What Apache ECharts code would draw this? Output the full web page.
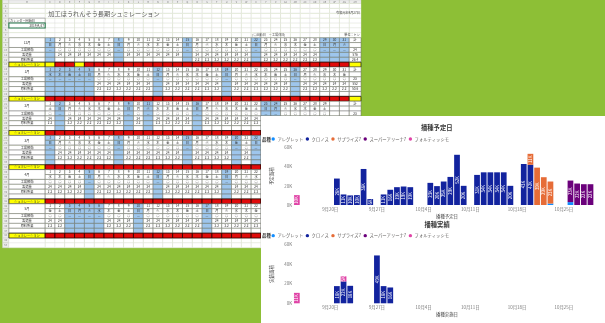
<!DOCTYPE html>
<html>
<head>
<meta charset="utf-8">
<script src="https://cdn.jsdelivr.net/npm/echarts@6/dist/echarts.min.js"></script>
<style>
  html, body { margin: 0; padding: 0; width: 605px; height: 323px; overflow: hidden; background: #8dbf36; }
  #sheet { position: absolute; left: 0; top: 0; width: 362px; height: 251px; }
  #panel { position: absolute; left: 261px; top: 116px; width: 344px; height: 207px; background: #ffffff; }
</style>
</head>
<body>
<div id="sheet"></div>
<div id="panel"></div>
<script>
// ---------------- spreadsheet content ----------------
const sheetTitle = '加工ほうれんそう長期シュミレーション';
const startLabel = 'カレンダー開始日';
const startDate = '2019/9/27';
const issueNote = '令和元年9月27日';
const legendNote = '(○出勤日　－工場休日)';
const unitNote = '単位：トン';
const weekdayChars = ['日', '月', '火', '水', '木', '金', '土'];
const rowLabels = ['工場稼働', '製造量', '原料所要'];
const simLabel = 'シュミレーション';

const monthNames = ['12月', '1月', '2月', '3月', '4月', '5月'];
const monthDays = [31, 31, 29, 31, 30, 31];
const firstWeekdays = [0, 3, 6, 0, 3, 5];
const offDays = [
  [1, 8, 15, 22, 29, 30, 31],
  [1, 2, 3, 4, 5, 12, 19, 26],
  [2, 9, 11, 16, 23, 24],
  [1, 8, 15, 20, 22, 29],
  [5, 12, 19, 26, 29],
  [3, 4, 5, 6, 10, 17, 24, 31]
];
const dailyOutput = [24, 24, 24, 24, 24, 24];
const dailyMaterial = [2.2, 2.2, 2.2, 2.2, 2.2, 2.2];
const outputFromDay = [2, 1, 1, 1, 1, 1];
const materialFromDay = [16, 1, 1, 1, 1, 1];
const simMarkedDays = [[1, 4], [], [], [], [], []];

// ---------------- chart content ----------------
const varieties = ['アレグレット', 'クロノス', 'サプライズ7', 'スーパーアリーナ7', 'フォルティッシモ'];
const varietyColors = ['#118DFF', '#12239E', '#E66C37', '#6B007B', '#E044A7'];
const axisFirstDay = '2019-09-15';
const axisLastDay = '2019-10-30';
const dateTicks = ['9/20', '9/27', '10/4', '10/11', '10/18', '10/25'];

// 播種予定日 — planned sowing area per day
const planAllegretto = [['10/23', 1500], ['10/26', 3000]];
const planChronos = [
  ['9/21', 27600], ['9/22', 11000], ['9/23', 10000], ['9/24', 10300], ['9/25', 37600], ['9/26', 6200],
  ['9/28', 11000], ['9/29', 15900], ['9/30', 18600], ['10/1', 19300], ['10/2', 18600],
  ['10/5', 23100], ['10/6', 19700], ['10/7', 24500], ['10/8', 29300], ['10/9', 52400], ['10/10', 20000],
  ['10/12', 31400], ['10/13', 34100], ['10/14', 34100], ['10/15', 34100], ['10/16', 34100], ['10/17', 20000],
  ['10/19', 42800], ['10/20', 42000]
];
const planSurprise = [['10/20', 11400], ['10/21', 39000], ['10/22', 29000], ['10/23', 23000]];
const planSuperArena = [['10/26', 22500], ['10/27', 22400], ['10/28', 21700], ['10/29', 21700]];
const planFortissimo = [['9/15', 10300]];

// 播種実績 — actual sowing area per day
const doneAllegretto = [];
const doneChronos = [['9/21', 17600], ['9/22', 22400], ['9/23', 17900], ['9/27', 49000], ['9/28', 17600], ['9/29', 16200]];
const doneSurprise = [];
const doneSuperArena = [];
const doneFortissimo = [['9/15', 10700], ['9/22', 5200]];

const FONT = '"Noto Sans CJK JP", "Noto Sans", sans-serif';

// ================= spreadsheet =================
const COL_ROWHDR = [-4.35, -3.7];
const COL_LABEL = [-3.7, 0];
const COL_TOTAL = [31, 32.2];
const SHEET_ROWS = 50;
const BLOCK_FIRST_ROW = [7, 13, 20, 27, 34, 41];

const CELL_STYLE = {
  hdr:   { fill: '#ececec', stroke: '#c9c9c9', lw: 0.4, color: '#7a7a7a', size: 2.4 },
  plain: { fill: '#ffffff', stroke: '#e0e0e0', lw: 0.4 },
  box:   { fill: '#ffffff', stroke: '#8a8a8a', lw: 0.6, color: '#333', size: 3.1 },
  sel:   { fill: '#ffffff', stroke: '#217346', lw: 1.1, color: '#333', size: 3.1 },
  cell:  { fill: '#ffffff', stroke: '#707070', lw: 0.5, color: '#333', size: 3.2 },
  off:   { fill: '#9ec6ec', stroke: '#707070', lw: 0.5, color: '#333', size: 3.2 },
  sim:   { fill: '#e00a0a', stroke: '#2a0000', lw: 0.8, color: '#500', size: 3.2 },
  mark:  { fill: '#ffff00', stroke: '#2a2a2a', lw: 0.8, color: '#333', size: 3.2 },
  note:  { fill: null, stroke: null, color: '#444', size: 3.1 },
  title: { fill: null, stroke: null, color: '#5a5a5a', size: 6.2 }
};

const sheetCells = [];
function addCell(x0, x1, r0, r1, kind, text, align) {
  sheetCells.push({ x0, x1, r0, r1, kind, text: text == null ? '' : String(text), align: align || 'center' });
}
function colName(n) {
  let s = '';
  while (n > 0) { const m = (n - 1) % 26; s = String.fromCharCode(65 + m) + s; n = Math.floor((n - 1) / 26); }
  return s;
}

// column header band and row numbers
addCell(COL_ROWHDR[0], COL_ROWHDR[1], -0.72, 0, 'hdr', '');
addCell(COL_LABEL[0], COL_LABEL[1], -0.72, 0, 'hdr', 'B');
for (let d = 1; d <= 31; d++) addCell(d - 1, d, -0.72, 0, 'hdr', colName(d + 2));
addCell(COL_TOTAL[0], COL_TOTAL[1], -0.72, 0, 'hdr', colName(34));
for (let r = 0; r < SHEET_ROWS; r++) addCell(COL_ROWHDR[0], COL_ROWHDR[1], r, r + 1, 'hdr', r + 1);

// which rows belong to a month table
const tableRows = new Set();
BLOCK_FIRST_ROW.forEach((start, b) => {
  const n = b === 0 ? 6 : 7;
  for (let i = 0; i < n; i++) tableRows.add(start + i);
});

// empty worksheet rows
for (let r = 0; r < SHEET_ROWS; r++) {
  if (tableRows.has(r)) continue;
  addCell(COL_LABEL[0], COL_LABEL[1], r, r + 1, 'plain');
  for (let d = 1; d <= 31; d++) addCell(d - 1, d, r, r + 1, 'plain');
  addCell(COL_TOTAL[0], COL_TOTAL[1], r, r + 1, 'plain');
}

// month tables
BLOCK_FIRST_ROW.forEach((start, b) => {
  const kinds = b === 0 ? ['day', 'wk', 'run', 'out', 'mat', 'sim'] : ['day', 'wk', 'run', 'out', 'mat', 'stock', 'sim'];
  const off = new Set(offDays[b]);
  const marked = new Set(simMarkedDays[b]);
  let runCount = 0, outSum = 0, matSum = 0;
  kinds.forEach((kind, i) => {
    const r = start + i;
    if (kind === 'sim') {
      addCell(COL_LABEL[0], COL_LABEL[1], r, r + 1, 'mark', simLabel);
      for (let d = 1; d <= 31; d++) addCell(d - 1, d, r, r + 1, marked.has(d) ? 'mark' : 'sim');
      addCell(COL_TOTAL[0], COL_TOTAL[1], r, r + 1, 'mark');
      return;
    }
    if (kind === 'day') addCell(COL_LABEL[0], COL_LABEL[1], r, r + 2, 'cell', monthNames[b]);
    if (kind === 'run') addCell(COL_LABEL[0], COL_LABEL[1], r, r + 1, 'cell', rowLabels[0]);
    if (kind === 'out') addCell(COL_LABEL[0], COL_LABEL[1], r, r + 1, 'cell', rowLabels[1]);
    if (kind === 'mat') addCell(COL_LABEL[0], COL_LABEL[1], r, r + 1, 'cell', rowLabels[2]);
    if (kind === 'stock') addCell(COL_LABEL[0], COL_LABEL[1], r, r + 1, 'cell', '');
    for (let d = 1; d <= 31; d++) {
      if (d > monthDays[b]) { addCell(d - 1, d, r, r + 1, 'cell', ''); continue; }
      const isOff = off.has(d);
      const k = isOff ? 'off' : 'cell';
      let t = '';
      if (kind === 'day') t = d;
      else if (kind === 'wk') t = weekdayChars[(firstWeekdays[b] + d - 1) % 7];
      else if (kind === 'run') { t = isOff ? '—' : '○'; if (!isOff) runCount++; }
      else if (kind === 'out') { if (!isOff && d >= outputFromDay[b]) { t = dailyOutput[b]; outSum += dailyOutput[b]; } }
      else if (kind === 'mat') { if (!isOff && d >= materialFromDay[b]) { t = dailyMaterial[b].toFixed(1); matSum += dailyMaterial[b]; } }
      addCell(d - 1, d, r, r + 1, k, t);
    }
    let total = '';
    if (kind === 'day') total = '計';
    else if (kind === 'run') total = runCount;
    else if (kind === 'out') total = outSum;
    else if (kind === 'mat') total = matSum.toFixed(1);
    addCell(COL_TOTAL[0], COL_TOTAL[1], r, r + 1, 'cell', total);
  });
});

// header texts and boxes
addCell(0.2, 14, 1, 3, 'title', sheetTitle, 'left');
addCell(26, 32.2, 1, 3, 'note', issueNote, 'right');
addCell(COL_LABEL[0], COL_LABEL[1], 3, 4, 'box', startLabel, 'left');
addCell(COL_LABEL[0], COL_LABEL[1], 4, 5, 'sel', startDate, 'right');
addCell(21, 28, 6, 7, 'note', legendNote, 'left');
addCell(28, 32.2, 6, 7, 'note', unitNote, 'right');

const sheet = echarts.init(document.getElementById('sheet'), null, { renderer: 'canvas' });
sheet.setOption({
  animation: false,
  grid: { left: 2.5, top: 0, width: 358.5, height: 247.8 },
  xAxis: { type: 'value', min: -4.35, max: 32.2, show: false },
  yAxis: { type: 'value', min: -0.72, max: 50, inverse: true, show: false },
  series: [{
    type: 'custom',
    silent: true,
    clip: false,
    data: sheetCells.map(c => [c.x0, c.r0]),
    encode: { x: 0, y: 1 },
    renderItem: function (params, api) {
      const c = sheetCells[params.dataIndex];
      const p0 = api.coord([c.x0, c.r0]);
      const p1 = api.coord([c.x1, c.r1]);
      const st = CELL_STYLE[c.kind];
      const children = [];
      if (st.fill || st.stroke) {
        children.push({
          type: 'rect',
          shape: { x: p0[0], y: p0[1], width: p1[0] - p0[0], height: p1[1] - p0[1] },
          style: { fill: st.fill || 'none', stroke: st.stroke || 'none', lineWidth: st.lw || 0 }
        });
      }
      if (c.text) {
        const pad = 1.2;
        const x = c.align === 'left' ? p0[0] + pad : c.align === 'right' ? p1[0] - pad : (p0[0] + p1[0]) / 2;
        children.push({
          type: 'text',
          style: {
            text: c.text, x: x, y: (p0[1] + p1[1]) / 2,
            align: c.align, textAlign: c.align,
            verticalAlign: 'middle', textVerticalAlign: 'middle',
            fill: st.color, fontSize: st.size, fontFamily: FONT,
            font: st.size + 'px ' + FONT
          }
        });
      }
      return { type: 'group', children: children };
    }
  }]
});

// ================= bar chart panel =================
function dayKeys(first, last) {
  const out = [];
  const d = new Date(first + 'T00:00:00');
  const e = new Date(last + 'T00:00:00');
  while (d <= e) { out.push((d.getMonth() + 1) + '/' + d.getDate()); d.setDate(d.getDate() + 1); }
  return out;
}
const days = dayKeys(axisFirstDay, axisLastDay);
function onDays(list) {
  const m = new Map(list);
  return days.map(k => (m.has(k) ? m.get(k) : '-'));
}
const kLabel = v => Math.round(v / 1000) + 'K';

const planLists = [planAllegretto, planChronos, planSurprise, planSuperArena, planFortissimo];
const doneLists = [doneAllegretto, doneChronos, doneSurprise, doneSuperArena, doneFortissimo];

function barSeries(lists, gi, stack) {
  return varieties.map((name, i) => ({
    type: 'bar',
    name: name,
    stack: stack,
    xAxisIndex: gi,
    yAxisIndex: gi,
    data: onDays(lists[i]),
    barCategoryGap: '14%',
    itemStyle: { color: varietyColors[i] },
    emphasis: { disabled: true },
    label: {
      show: true,
      position: 'inside',
      rotate: 90,
      color: '#ffffff',
      fontSize: 4.3,
      fontFamily: FONT,
      formatter: p => (p.value >= 4000 ? kLabel(p.value) : '')
    }
  }));
}

const axisText = { fontSize: 4.4, color: '#777', fontFamily: FONT };
const nameText = { fontSize: 4.4, color: '#444', fontFamily: FONT };

function xAxisFor(gi, name, gap) {
  return {
    type: 'category', gridIndex: gi, data: days,
    axisLine: { show: false }, axisTick: { show: false },
    axisLabel: Object.assign({
      margin: 2,
      interval: (idx, val) => dateTicks.indexOf(val) >= 0,
      formatter: v => { const [m, d] = v.split('/'); return m + '月' + d + '日'; }
    }, axisText),
    name: name, nameLocation: 'middle', nameGap: gap, nameTextStyle: nameText
  };
}
function yAxisFor(gi, name) {
  return {
    type: 'value', gridIndex: gi, min: 0, max: 60000, interval: 20000,
    axisLine: { show: false }, axisTick: { show: false }, splitLine: { show: false },
    axisLabel: Object.assign({ margin: 1.5, formatter: kLabel }, axisText),
    name: name, nameLocation: 'middle', nameGap: 14.5, nameTextStyle: nameText
  };
}
function legendAt(top) {
  return {
    data: varieties, left: 10.5, top: top, padding: 0,
    icon: 'circle', itemWidth: 3.4, itemHeight: 3.4, itemGap: 2.5,
    selectedMode: false,
    textStyle: { fontSize: 4.3, color: '#605e5c', fontFamily: FONT, padding: [0, 0, 0, -2.5] }
  };
}
const chartTitle = (text, left, top) => ({
  text: text, left: left, top: top, padding: 0,
  textStyle: { fontSize: 6.3, fontWeight: 'bold', color: '#333', fontFamily: FONT }
});
const legendHeading = top => ({
  text: '品種', left: 1, top: top, padding: 0,
  textStyle: { fontSize: 4.4, fontWeight: 'bold', color: '#333', fontFamily: FONT }
});

const panel = echarts.init(document.getElementById('panel'), null, { renderer: 'canvas' });
panel.setOption({
  animation: false,
  backgroundColor: '#ffffff',
  title: [
    chartTitle('播種予定日', 160, 8.8),
    legendHeading(20.8),
    chartTitle('播種実績', 163.5, 105.9),
    legendHeading(117.5)
  ],
  legend: [legendAt(20.8), legendAt(117.5)],
  grid: [
    { left: 17.5, top: 31.5, width: 322, height: 57.5 },
    { left: 17.5, top: 128.7, width: 322, height: 58.6 }
  ],
  xAxis: [xAxisFor(0, '播種予定日', 9.5), xAxisFor(1, '播種実施日', 8.8)],
  yAxis: [yAxisFor(0, '予定面積'), yAxisFor(1, '実績面積')],
  series: barSeries(planLists, 0, 'plan').concat(barSeries(doneLists, 1, 'done'))
});
</script>
</body>
</html>
